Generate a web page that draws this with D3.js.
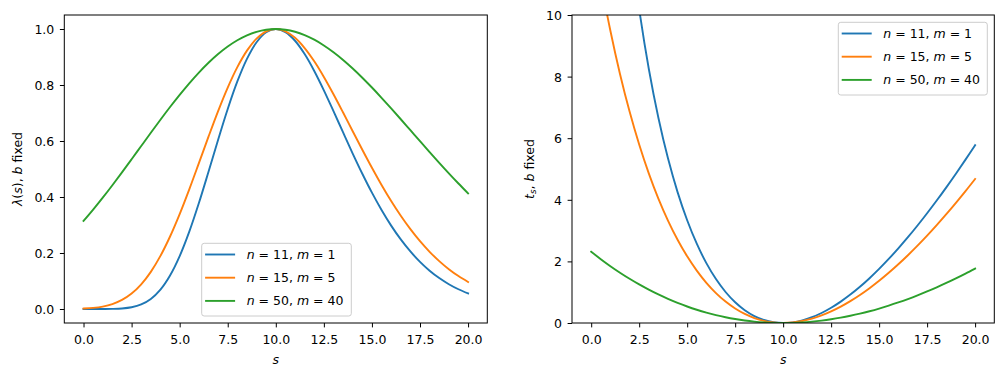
<!DOCTYPE html>
<html>
<head>
<meta charset="utf-8">
<script src="https://cdn.jsdelivr.net/npm/d3@7"></script>
<style>
  html, body { margin: 0; padding: 0; background: #fff; }
  svg { display: block; font-family: "DejaVu Sans", sans-serif; }
</style>
</head>
<body>
<svg id="chart" width="1004" height="376"></svg>
<script>
// ---- data ----
const sValues = [0,0.5,1,1.5,2,2.5,3,3.5,4,4.5,5,5.5,6,6.5,7,7.5,8,8.5,9,9.5,10,10.5,11,11.5,12,12.5,13,13.5,14,14.5,15,15.5,16,16.5,17,17.5,18,18.5,19,19.5,20];
const lambdaN11 = [7.7e-8, 4.04e-6, 5.82e-5, 4.107e-4, 0.00185, 0.006118, 0.01612, 0.035722, 0.06904, 0.119478, 0.18872, 0.276092, 0.37839, 0.49021, 0.60473, 0.71454, 0.81272, 0.89348, 0.95274, 0.98835, 1, 0.98903, 0.95804, 0.91044, 0.85010, 0.78094, 0.70665, 0.63052, 0.55527, 0.48306, 0.41546, 0.35350, 0.29775, 0.24842, 0.20541, 0.16841, 0.13697, 0.11055, 0.08858, 0.0705, 0.05574];
const lambdaN15 = [0.001535, 0.0038893, 0.008701, 0.017532, 0.032319, 0.055177, 0.088114, 0.13269, 0.189687, 0.25889, 0.33892, 0.42736, 0.52083, 0.61536, 0.70670, 0.79072, 0.86371, 0.92275, 0.96570, 0.99152, 1, 0.99188, 0.96859, 0.93207, 0.88466, 0.82883, 0.76708, 0.70175, 0.63498, 0.56862, 0.50421, 0.44292, 0.38561, 0.33289, 0.28504, 0.24219, 0.20427, 0.17106, 0.14228, 0.11758, 0.096558];
const lambdaN50 = [0.31437, 0.35485, 0.39750, 0.44198, 0.48789, 0.53475, 0.58208, 0.62933, 0.67594, 0.72130, 0.76489, 0.80610, 0.84444, 0.87937, 0.91051, 0.93740, 0.95973, 0.97731, 0.98992, 0.99748, 1, 0.99752, 0.99018, 0.97817, 0.96178, 0.94130, 0.91708, 0.88954, 0.85903, 0.82605, 0.79097, 0.75427, 0.71637, 0.67767, 0.63853, 0.59936, 0.56046, 0.52215, 0.48466, 0.44827, 0.41316];
const tsN11 = [32.754, 24.833, 19.504, 15.595, 12.584, 10.193, 8.255, 6.664, 5.346, 4.249, 3.335, 2.574, 1.9437, 1.4258, 1.006, 0.6722, 0.4147, 0.2253, 0.0968, 0.0234, 0, 0.0221, 0.0857, 0.1877, 0.3248, 0.4945, 0.6944, 0.9224, 1.1766, 1.4552, 1.7567, 2.0798, 2.4230, 2.7853, 3.1655, 3.5627, 3.9760, 4.4046, 4.8476, 5.3043, 5.7742];
const tsN15 = [12.958, 11.099, 9.4887, 8.0874, 6.8642, 5.7944, 4.8582, 4.0395, 3.3248, 2.7027, 2.1640, 1.7003, 1.3047, 0.9711, 0.6943, 0.4696, 0.2930, 0.1608, 0.0698, 0.0170, 0, 0.0163, 0.0638, 0.1407, 0.2451, 0.3755, 0.5303, 0.7084, 0.9083, 1.1291, 1.3695, 1.6288, 1.9058, 2.1999, 2.5102, 2.8361, 3.1767, 3.5315, 3.8999, 4.2813, 4.6752];
const tsN50 = [2.3144, 2.0721, 1.8451, 1.6330, 1.4353, 1.2519, 1.0823, 0.9262, 0.7833, 0.6534, 0.5361, 0.4311, 0.3382, 0.2571, 0.1875, 0.1293, 0.0822, 0.0459, 0.0203, 0.0050, 0, 0.0050, 0.0197, 0.0442, 0.0779, 0.1210, 0.1731, 0.2341, 0.3039, 0.3822, 0.4690, 0.5640, 0.6671, 0.7782, 0.8972, 1.0238, 1.1580, 1.2996, 1.4486, 1.6047, 1.7678];
const seriesN = ["11", "15", "50"];
const seriesM = ["1", "5", "40"];
const seriesColors = ["#1f77b4", "#ff7f0e", "#2ca02c"];
const xTicks = [0, 2.5, 5, 7.5, 10, 12.5, 15, 17.5, 20];
const yTicksLeft = [0, 0.2, 0.4, 0.6, 0.8, 1.0];
const yTicksRight = [0, 2, 4, 6, 8, 10];

// ---- layout ----
const FS = 12.5;
const svg = d3.select("#chart");
const panels = [
  { left: 64.3, right: 487.3, top: 15, bottom: 323, yDomain: [-0.05, 1.05],
    yTicks: yTicksLeft, yFmt: d3.format(".1f"), series: [lambdaN11, lambdaN15, lambdaN50],
    ylabelX: 21.5, ylabel: "lambda", legend: { x: 201.7, y: 243.3, w: 149.6, h: 72.7 } },
  { left: 572, right: 994.3, top: 15, bottom: 323, yDomain: [0, 10],
    yTicks: yTicksRight, yFmt: d3.format("d"), series: [tsN11, tsN15, tsN50],
    ylabelX: 533.5, ylabel: "ts", legend: { x: 838.3, y: 22.3, w: 149, h: 72.7 } }
];

panels.forEach((p, pi) => {
  const x = d3.scaleLinear().domain([-1, 21]).range([p.left, p.right]);
  const y = d3.scaleLinear().domain(p.yDomain).range([p.bottom, p.top]);
  const g = svg.append("g");

  const clipId = "clip" + pi;
  svg.append("defs").append("clipPath").attr("id", clipId)
    .append("rect").attr("x", p.left).attr("y", p.top)
    .attr("width", p.right - p.left).attr("height", p.bottom - p.top);

  // lines
  const line = d3.line()
    .x((d, i) => x(sValues[i]))
    .y(d => y(d))
    .curve(d3.curveCatmullRom.alpha(0.5));
  const lg = g.append("g").attr("clip-path", `url(#${clipId})`);
  p.series.forEach((vals, si) => {
    lg.append("path").datum(vals)
      .attr("d", line)
      .attr("fill", "none")
      .attr("stroke", seriesColors[si])
      .attr("stroke-width", 1.9)
      .attr("stroke-linejoin", "round")
      .attr("stroke-linecap", "square");
  });

  // x axis
  const xAxis = d3.axisBottom(x).tickValues(xTicks).tickFormat(d3.format(".1f"))
    .tickSize(4.4).tickPadding(4.4);
  const xg = g.append("g").attr("transform", `translate(0,${p.bottom})`).call(xAxis);
  xg.select(".domain").remove();
  xg.selectAll(".tick line").attr("stroke", "#000").attr("stroke-width", 1);
  xg.selectAll(".tick text").attr("font-size", FS).attr("font-family", "DejaVu Sans")
    .attr("fill", "#000").attr("y", 21).attr("dy", null);

  // y axis
  const yAxis = d3.axisLeft(y).tickValues(p.yTicks).tickFormat(p.yFmt)
    .tickSize(4.4).tickPadding(5.6);
  const yg = g.append("g").attr("transform", `translate(${p.left},0)`).call(yAxis);
  yg.select(".domain").remove();
  yg.selectAll(".tick line").attr("stroke", "#000").attr("stroke-width", 1);
  yg.selectAll(".tick text").attr("font-size", FS).attr("font-family", "DejaVu Sans")
    .attr("fill", "#000").attr("dy", null).attr("y", 4.5);

  // frame
  g.append("rect").attr("x", p.left).attr("y", p.top)
    .attr("width", p.right - p.left).attr("height", p.bottom - p.top)
    .attr("fill", "none").attr("stroke", "#000").attr("stroke-width", 1);

  // x label
  g.append("text").attr("x", (p.left + p.right) / 2).attr("y", 363.5)
    .attr("text-anchor", "middle").attr("font-size", FS).attr("font-style", "italic")
    .text("s");

  // y label
  const yl = g.append("text")
    .attr("transform", `translate(${p.ylabelX},${(p.top + p.bottom) / 2}) rotate(-90)`)
    .attr("text-anchor", "middle").attr("font-size", FS);
  if (p.ylabel === "lambda") {
    yl.append("tspan").attr("font-style", "italic").text("λ");
    yl.append("tspan").text("(");
    yl.append("tspan").attr("font-style", "italic").text("s");
    yl.append("tspan").text("), ");
    yl.append("tspan").attr("font-style", "italic").text("b");
    yl.append("tspan").text(" fixed");
  } else {
    yl.append("tspan").attr("font-style", "italic").text("t");
    yl.append("tspan").attr("font-style", "italic").attr("font-size", FS * 0.7).attr("dy", 2.5).text("s");
    yl.append("tspan").attr("dy", -2.5).text(", ");
    yl.append("tspan").attr("font-style", "italic").text("b");
    yl.append("tspan").text(" fixed");
  }

  // legend
  const L = p.legend;
  const leg = g.append("g");
  leg.append("rect").attr("x", L.x).attr("y", L.y).attr("width", L.w).attr("height", L.h)
    .attr("rx", 2.5).attr("ry", 2.5)
    .attr("fill", "#fff").attr("fill-opacity", 0.8)
    .attr("stroke", "#cccccc").attr("stroke-width", 1);
  seriesN.forEach((nv, si) => {
    const cy = L.y + 11.2 + si * 23.2;
    leg.append("line").attr("x1", L.x + 3.4).attr("x2", L.x + 33.4)
      .attr("y1", cy).attr("y2", cy)
      .attr("stroke", seriesColors[si]).attr("stroke-width", 1.9);
    const t = leg.append("text").attr("x", L.x + 45).attr("y", cy + 4.5)
      .attr("font-size", FS).attr("xml:space", "preserve");
    t.append("tspan").attr("font-style", "italic").text("n");
    t.append("tspan").text(" = " + nv + ", ");
    t.append("tspan").attr("font-style", "italic").text("m");
    t.append("tspan").text(" = " + seriesM[si]);
  });
});
</script>
</body>
</html>
